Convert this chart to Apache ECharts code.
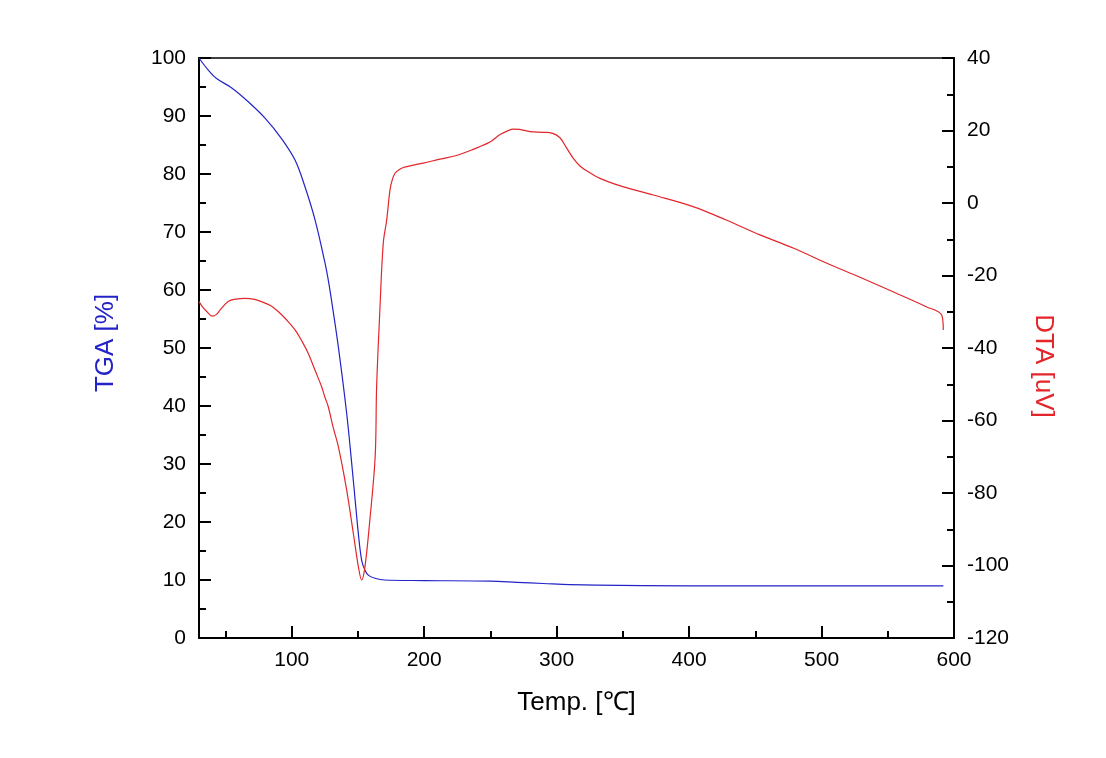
<!DOCTYPE html>
<html>
<head>
<meta charset="utf-8">
<script src="https://cdn.jsdelivr.net/npm/echarts@6/dist/echarts.min.js"></script>
<style>
html,body{margin:0;padding:0;background:#fff;}
#chart{width:1106px;height:758px;}
</style>
</head>
<body>
<div id="chart"></div>
<script>
// Temperature axis ticks
const xMajorTicks = [100, 200, 300, 400, 500, 600];
const xMinorTicks = [50, 150, 250, 350, 450, 550];

// TGA curve (%)
const tgaTemp = [30, 37, 43, 55, 67, 80, 92, 102.5, 110, 117.6, 125, 128, 130.2, 135.2, 141.5, 146.5, 150.3, 152.8, 155.3, 158, 162.9, 170, 200, 250, 270, 290, 310, 330, 400, 500, 592];
const tgaValue = [100, 97.9, 96.5, 94.8, 92.5, 89.6, 86.2, 82.4, 77.8, 72.1, 64.8, 61.2, 58, 50.2, 38.7, 27.2, 18.0, 13.4, 11.7, 10.8, 10.3, 10.0, 9.9, 9.8, 9.6, 9.4, 9.2, 9.1, 9.0, 9.0, 9.0];

// DTA curve (uV)
const dtaTemp = [30, 33, 36, 40, 43, 46, 52, 58, 65, 72, 77, 84, 90, 96, 102.5, 108, 112.5, 118, 122.6, 125, 127.6, 131, 135.2, 141.5, 146.5, 150.3, 152.8, 155.3, 159, 163, 164.1, 166.5, 169.1, 171.7, 174.2, 176, 178, 181, 184.3, 190, 199.3, 212, 224.5, 237, 250, 257, 263, 267.3, 272, 280, 290, 297, 302.5, 307, 312.6, 317.6, 323, 332.7, 350, 373, 403, 428, 453.5, 479, 504, 529, 554, 579, 590.7, 591.9];
const dtaValue = [-27.2, -28.8, -30.0, -31.2, -30.8, -29.5, -27.2, -26.5, -26.3, -26.6, -27.2, -28.3, -30.0, -32.2, -35.0, -38.3, -41.5, -46.5, -50.7, -53.5, -56.2, -61.5, -67.2, -79.2, -91.1, -100.3, -104.0, -100.3, -87.4, -70.0, -50.7, -30.0, -11.1, -4.7, 3.6, 6.5, 8.2, 9.2, 9.8, 10.3, 11.0, 12.1, 13.1, 14.8, 16.9, 18.8, 19.9, 20.4, 20.3, 19.7, 19.5, 19.2, 18.0, 15.5, 12.3, 10.2, 8.8, 6.8, 4.5, 2.2, -1.0, -4.7, -8.8, -12.5, -16.6, -20.5, -24.5, -28.6, -30.9, -35.0];

const tgaData = tgaTemp.map((t, i) => [t, tgaValue[i]]);
const dtaData = dtaTemp.map((t, i) => [t, dtaValue[i]]);

const FONT = 'Liberation Sans, Arial, sans-serif';
const BLUE = '#2323c8';
const RED = '#e3262b';

const chart = echarts.init(document.getElementById('chart'), null, {renderer: 'canvas'});
chart.setOption({
  backgroundColor: '#fff',
  animation: false,
  grid: {
    left: 199, right: 152, top: 58, bottom: 120,
    show: true, borderColor: '#000', borderWidth: 1.5,
    outerBoundsMode: 'none', containLabel: false
  },
  xAxis: [{
    type: 'value', min: 30, max: 600, position: 'bottom',
    name: 'Temp. [℃]', nameLocation: 'middle', nameGap: 52,
    nameTextStyle: {fontFamily: FONT, fontSize: 26, color: '#000'},
    axisLine: {show: true, onZero: false, lineStyle: {color: '#000', width: 2}},
    axisTick: {show: true, inside: true, length: 12, lineStyle: {color: '#000', width: 2}, customValues: xMajorTicks},
    axisLabel: {show: true, margin: 12, fontFamily: FONT, fontSize: 21, color: '#000', customValues: xMajorTicks},
    splitLine: {show: false}
  }, {
    type: 'value', min: 30, max: 600, position: 'bottom',
    axisLine: {show: false},
    axisTick: {show: true, inside: true, length: 7, lineStyle: {color: '#000', width: 2}, customValues: xMinorTicks},
    axisLabel: {show: false},
    splitLine: {show: false}
  }],
  yAxis: [{
    type: 'value', min: 0, max: 100, interval: 10, position: 'left',
    name: 'TGA [%]', nameLocation: 'middle', nameGap: 80, nameRotate: 90,
    nameTextStyle: {fontFamily: FONT, fontSize: 26, color: BLUE, padding: [0, 0, 0, 10]},
    axisLine: {show: true, onZero: false, lineStyle: {color: '#000', width: 2}},
    axisTick: {show: true, inside: true, length: 12, lineStyle: {color: '#000', width: 2}},
    minorTick: {show: true, splitNumber: 2, length: 7, lineStyle: {color: '#000', width: 2}},
    axisLabel: {margin: 13, fontFamily: FONT, fontSize: 21, color: '#000'},
    splitLine: {show: false}
  }, {
    type: 'value', min: -120, max: 40, interval: 20, position: 'right',
    name: 'DTA [uV]', nameLocation: 'middle', nameGap: 76, nameRotate: -90,
    nameTextStyle: {fontFamily: FONT, fontSize: 26, color: RED, padding: [0, 0, 0, 36]},
    axisLine: {show: true, onZero: false, lineStyle: {color: '#000', width: 2}},
    axisTick: {show: true, inside: true, length: 12, lineStyle: {color: '#000', width: 2}},
    minorTick: {show: true, splitNumber: 2, length: 7, lineStyle: {color: '#000', width: 2}},
    axisLabel: {margin: 13, fontFamily: FONT, fontSize: 21, color: '#000'},
    splitLine: {show: false}
  }],
  series: [{
    name: 'TGA', type: 'line', xAxisIndex: 0, yAxisIndex: 0,
    data: tgaData, showSymbol: false, smooth: 0.35,
    lineStyle: {color: BLUE, width: 1.2}, itemStyle: {color: BLUE}
  }, {
    name: 'DTA', type: 'line', xAxisIndex: 0, yAxisIndex: 1,
    data: dtaData, showSymbol: false, smooth: 0.35,
    lineStyle: {color: RED, width: 1.2}, itemStyle: {color: RED}
  }]
});
</script>
</body>
</html>
